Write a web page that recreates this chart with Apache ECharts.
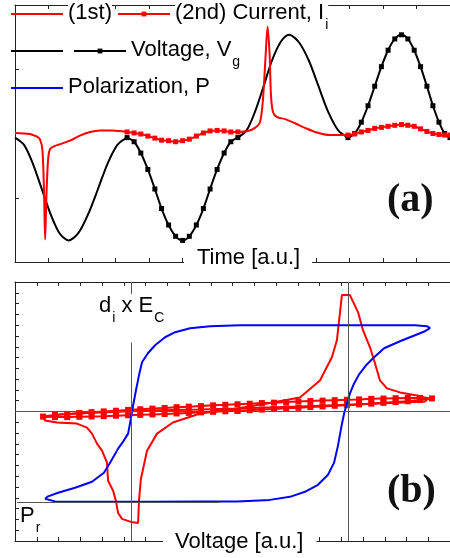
<!DOCTYPE html>
<html>
<head>
<meta charset="utf-8">
<script src="https://cdn.jsdelivr.net/npm/echarts@6.0.0/dist/echarts.min.js"></script>
<style>
html, body { margin: 0; padding: 0; background: #fff; }
#main { width: 450px; height: 558px; }
</style>
</head>
<body>
<div id="main"></div>
<script>
// ---- panel (a): traces vs time (time in tick units, 0..13) ----
// gate voltage: two negative pulses, then two positive pulses (2nd ones marked)
var tV1 = [0, 0.27, 0.53, 0.80, 1.07, 1.33, 1.60, 1.89, 2.18, 2.48, 2.77, 3.06, 3.35];
var vV1 = [-0.04, -0.11, -0.29, -0.54, -0.79, -0.97, -1.04, -0.97, -0.79, -0.54, -0.29, -0.11, -0.04];
var tV2 = [3.35, 3.56, 3.76, 3.97, 4.18, 4.38, 4.59, 4.80, 5.01, 5.21, 5.42, 5.63, 5.83, 6.04, 6.25, 6.45, 6.66];
var vV2 = [-0.04, -0.08, -0.19, -0.35, -0.54, -0.73, -0.89, -1.00, -1.04, -1.00, -0.89, -0.73, -0.54, -0.35, -0.19, -0.08, -0.04];
var tV3 = [6.66, 6.92, 7.17, 7.43, 7.68, 7.94, 8.19, 8.48, 8.78, 9.07, 9.36, 9.66, 9.95];
var vV3 = [-0.04, 0.03, 0.21, 0.46, 0.71, 0.89, 0.96, 0.89, 0.71, 0.46, 0.21, 0.03, -0.04];
var tV4 = [9.95, 10.15, 10.35, 10.55, 10.75, 10.95, 11.15, 11.35, 11.55, 11.74, 11.93, 12.12, 12.31, 12.49, 12.67, 12.84, 13.00];
var vV4 = [-0.04, 0.00, 0.11, 0.27, 0.46, 0.65, 0.81, 0.92, 0.96, 0.92, 0.81, 0.65, 0.46, 0.27, 0.11, 0.00, -0.04];

// current I_i (1st: switching, 2nd: marked, same time base as the voltage)
var tI1 = [0, 0.45, 0.54, 0.66, 0.75, 0.82, 0.87, 0.90, 0.94, 0.99, 1.05, 1.20, 1.29, 1.64, 1.94, 2.24, 2.54, 2.90, 3.35];
var vI1 = [0.005, -0.005, -0.015, -0.03, -0.06, -0.16, -0.60, -1.03, -0.60, -0.25, -0.15, -0.12, -0.11, -0.07, -0.02, 0.015, 0.03, 0.03, 0.015];
var vI2 = [0.015, 0.005, -0.005, -0.025, -0.045, -0.065, -0.07, -0.08, -0.07, -0.055, -0.025, 0.005, 0.025, 0.03, 0.025, 0.015, 0.015];
var tI3 = [6.66, 6.96, 7.17, 7.32, 7.41, 7.49, 7.55, 7.61, 7.65, 7.71, 7.83, 8.07, 8.37, 8.67, 8.97, 9.41, 9.95];
var vI3 = [0.015, 0.025, 0.055, 0.11, 0.33, 0.76, 1.04, 0.76, 0.37, 0.21, 0.16, 0.14, 0.10, 0.055, 0.015, -0.015, -0.015];
var vI4 = [-0.015, -0.005, 0.015, 0.03, 0.05, 0.06, 0.07, 0.08, 0.087, 0.08, 0.07, 0.045, 0.02, 0, -0.01, -0.015, -0.015];

// ---- panel (b): loops vs voltage ----
var polV = [-8.62, -8.16, -7.47, -6.09, -3.79, -1.49, 0.21, 1.72, 2.64, 3.33, 3.93, 4.39, 4.67, 4.85, 4.99, 5.13, 5.26, 5.40, 5.59, 5.82, 6.14, 6.51, 6.97, 7.70, 8.39, 8.85, 9.08,
            8.94, 8.39, 6.78, 3.10, 0.34, -1.03, -1.95, -2.64, -3.10, -3.56, -3.89, -4.16, -4.30, -4.44, -4.57, -4.67, -4.80, -5.03, -5.26, -5.63, -5.91, -6.46, -7.24, -8.02, -8.48, -8.62];
var polP = [-8.09, -8.33, -8.37, -8.37, -8.37, -8.33, -8.33, -8.19, -7.91, -7.44, -6.79, -5.86, -4.74, -3.16, -1.58, -0.19, 0.74, 1.67, 2.60, 3.44, 4.28, 5.02, 5.86, 6.51, 7.07, 7.44, 7.72,
            7.91, 8.00, 8.00, 8.00, 8.00, 7.91, 7.72, 7.35, 6.88, 6.14, 5.40, 4.56, 3.35, 1.95, 0.56, -0.65, -2.05, -2.79, -3.44, -4.74, -5.67, -6.51, -7.07, -7.53, -7.86, -8.09];

// switching current (1st) vs voltage
var swV = [0.21, -1.49, -2.74, -3.47, -3.93, -4.21, -4.30, -4.34, -4.67, -5.08, -5.26, -5.36, -5.49, -5.72, -5.77, -6.00, -6.23, -6.46, -6.69, -7.15, -8.07, -8.62, -8.71,
           -7.93, -6.09, -3.79, -1.49, 0.21, 1.59, 3.10, 4.02, 4.57, 4.80, 4.94, 5.03, 5.40, 5.77, 6.00, 6.32, 6.55, 6.78, 7.10, 7.70, 8.48, 8.99, 8.85, 6.78, 3.10, 0.21];
var swI = [0.28, -0.19, -1.02, -2.05, -3.63, -6.23, -8.28, -10.33, -10.23, -9.95, -9.40, -8.28, -7.35, -6.42, -4.74, -3.63, -2.98, -2.05, -1.49, -1.12, -1.02, -0.84, -0.56,
           -0.28, -0.09, 0.09, 0.19, 0.28, 0.74, 1.30, 2.88, 5.02, 6.60, 9.12, 10.79, 10.79, 9.21, 7.53, 5.95, 4.47, 2.88, 2.14, 1.77, 1.49, 1.21, 0.93, 0.74, 0.47, 0.28];

// non-switching current (2nd) vs voltage
var loopV = [0.23, -0.33, -0.89, -1.45, -2.01, -2.57, -3.12, -3.68, -4.24, -4.80, -5.36, -5.92, -6.48, -7.04, -7.60, -8.16, -8.71,
             -8.16, -7.60, -7.04, -6.48, -5.92, -5.36, -4.80, -4.24, -3.68, -3.12, -2.57, -2.01, -1.45, -0.89, -0.33, 0.23,
             0.79, 1.35, 1.91, 2.47, 3.03, 3.58, 4.14, 4.70, 5.26, 5.82, 6.38, 6.94, 7.50, 8.06, 8.62, 9.17,
             8.62, 8.06, 7.50, 6.94, 6.38, 5.82, 5.26, 4.70, 4.14, 3.58, 3.03, 2.47, 1.91, 1.35, 0.79, 0.23];
var loopI = [0.07, 0.02, -0.03, -0.08, -0.13, -0.18, -0.23, -0.27, -0.31, -0.35, -0.39, -0.43, -0.46, -0.49, -0.52, -0.52, -0.47,
             -0.32, -0.22, -0.13, -0.06, 0.01, 0.07, 0.15, 0.21, 0.27, 0.33, 0.40, 0.45, 0.50, 0.57, 0.62, 0.67,
             0.72, 0.78, 0.82, 0.87, 0.92, 0.97, 1.01, 1.05, 1.09, 1.12, 1.17, 1.20, 1.23, 1.25, 1.26, 1.21,
             1.06, 0.95, 0.87, 0.80, 0.73, 0.66, 0.59, 0.53, 0.47, 0.41, 0.34, 0.29, 0.24, 0.18, 0.12, 0.07];

// guide lines: coercive voltages and remanent polarization
var ecV = [-4.67, 5.31];
var prLevel = -8.45;

var RED = '#ff0000', BLACK = '#000000', BLUE = '#0000ff';
var FRAME = { color: '#222', width: 1 };
var FONT = '"Liberation Sans", Arial, sans-serif';

function pairs(xs, ys) {
    return xs.map(function (x, i) { return [x, ys[i]]; });
}

function trace(name, xs, ys, color, marked, ax, z, size) {
    return {
        name: name,
        type: 'line',
        xAxisIndex: ax,
        yAxisIndex: ax === 0 ? 0 : 1,
        data: pairs(xs, ys),
        smooth: ax === 0 ? 0.3 : false,
        symbol: marked ? 'rect' : 'none',
        symbolSize: size || 5,
        showAllSymbol: true,
        itemStyle: { color: color },
        lineStyle: { color: color, width: 2 },
        z: z || 2,
        silent: true
    };
}

function xAx(grid, pos, min, max) {
    return {
        gridIndex: grid, type: 'value', position: pos, min: min, max: max, interval: 1,
        axisLine: { show: true, onZero: false, lineStyle: FRAME },
        axisTick: { show: true, inside: true, length: 4, lineStyle: FRAME },
        axisLabel: { show: false },
        splitLine: { show: false }
    };
}

function yAx(grid, min, max, step) {
    return {
        gridIndex: grid, type: 'value', min: min, max: max, interval: step,
        axisLine: { show: true, onZero: false, lineStyle: FRAME },
        axisTick: { show: true, inside: true, length: 4, lineStyle: FRAME },
        axisLabel: { show: false }, splitLine: { show: false }
    };
}

var rich = {
    m: { fontSize: 22, fontFamily: FONT, color: '#000', lineHeight: 24, verticalAlign: 'top' },
    s: { fontSize: 14, fontFamily: FONT, color: '#000', lineHeight: 14, verticalAlign: 'top', padding: [16, 0, 0, 1] }
};
var legendText = {
    '(1st)': '{m|(1st)}',
    '(2nd) Current': '{m|(2nd) Current, I}{s|i}',
    'V1': '',
    'Voltage': '{m|Voltage, V}{s|g}',
    'Polarization': '{m|Polarization, P}'
};
function legendRow(names, top, hideSymbol) {
    return {
        data: names.map(function (n) {
            return hideSymbol.indexOf(n) >= 0 ? { name: n, itemStyle: { opacity: 0 } } : n;
        }),
        left: 10, top: top, padding: 0,
        itemWidth: 52, itemHeight: 6, itemGap: 5,
        selectedMode: false,
        formatter: function (n) { return legendText[n]; },
        textStyle: { backgroundColor: '#fff', rich: rich }
    };
}

function axisTitle(text, left, top, padL, padR) {
    return {
        type: 'text', left: left, top: top, z: 50,
        style: {
            text: text, fontSize: 22, fontFamily: FONT, fill: '#000',
            backgroundColor: '#fff', padding: [1, padR, 1, padL]
        }
    };
}

var chart = echarts.init(document.getElementById('main'), null, { renderer: 'canvas' });
chart.setOption({
    animation: false,
    backgroundColor: '#fff',
    grid: [
        { left: 15, right: 0, top: 5, height: 257 },
        { left: 15, right: 0, top: 282, height: 259 }
    ],
    xAxis: [
        xAx(0, 'bottom', 0, 13),
        xAx(0, 'top', 0, 13),
        xAx(1, 'bottom', -10, 10),
        xAx(1, 'top', -10, 10)
    ],
    yAxis: [
        yAx(0, -1.25, 1.25, 0.625),
        yAx(1, -12, 12, 1)
    ],
    legend: [
        legendRow(['(1st)', '(2nd) Current'], 2, ['(1st)']),
        legendRow(['V1', 'Voltage'], 39, ['V1']),
        legendRow(['Polarization'], 76, ['Polarization'])
    ],
    series: [
        trace('V1', tV1, vV1, BLACK, false, 0),
        trace('Voltage', tV2, vV2, BLACK, true, 0),
        trace('V1', tV3, vV3, BLACK, false, 0),
        trace('Voltage', tV4, vV4, BLACK, true, 0),
        trace('(1st)', tI1, vI1, RED, false, 0, 3),
        trace('(2nd) Current', tV2, vI2, RED, true, 0, 3),
        trace('(1st)', tI3, vI3, RED, false, 0, 3),
        trace('(2nd) Current', tV4, vI4, RED, true, 0, 3),
        Object.assign(trace('I1 loop', swV, swI, RED, false, 2), {
            markLine: {
                silent: true, symbol: ['none', 'none'], label: { show: false },
                lineStyle: { color: '#555', width: 1, type: 'solid' },
                data: [
                    { yAxis: 0 },
                    { xAxis: ecV[1] },
                    [{ coord: [ecV[0], -12] }, { coord: [ecV[0], 6.4] }],
                    [{ coord: [ecV[0], 12] }, { coord: [ecV[0], 10.9] }],
                    [{ coord: [-9.9, prLevel] }, { coord: [-0.57, prLevel] }]
                ]
            }
        }),
        trace('I2 loop', loopV, loopI, RED, true, 2, 3, 6),
        trace('Polarization', polV, polP, BLUE, false, 2, 4)
    ],
    graphic: [
        axisTitle('Time [a.u.]', 184, 246, 13, 12),
        axisTitle('Voltage [a.u.]', 163, 530, 12, 13),
        { type: 'text', left: 387, top: 181, z: 100,
          style: { text: '(a)', fontSize: 40, fontFamily: '"Liberation Serif", serif', fontWeight: 'bold', fill: '#111' } },
        { type: 'text', left: 387, top: 472, z: 100,
          style: { text: '(b)', fontSize: 40, fontFamily: '"Liberation Serif", serif', fontWeight: 'bold', fill: '#111' } },
        { type: 'text', left: 99, top: 295, z: 100,
          style: { text: '{m|d}{s|i}{m| x E}{s|C}', rich: rich } },
        { type: 'text', left: 20, top: 505, z: 100,
          style: { text: '{m|P}{s|r}', rich: rich } }
    ]
});
</script>
</body>
</html>
